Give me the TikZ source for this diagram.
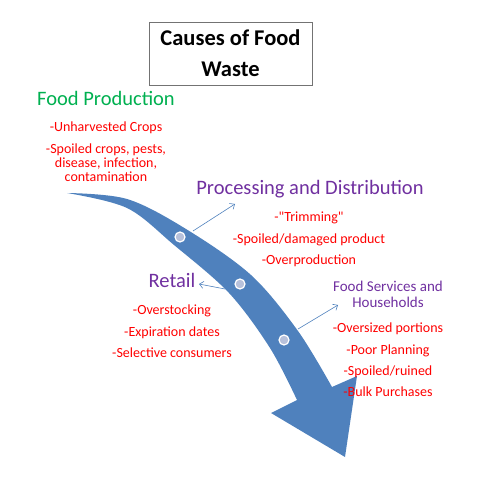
\documentclass[tikz,border=0pt]{standalone}
\usepackage{fontspec}
\setmainfont{Carlito}
\usetikzlibrary{positioning, arrows.meta}
\definecolor{arrowblue}{HTML}{4F81BD}
\definecolor{dotfill}{HTML}{B7C1DB}
\definecolor{prodgreen}{HTML}{00B050}
\definecolor{stagepurple}{HTML}{7030A0}
\definecolor{causered}{HTML}{FF0000}
\tikzset{
  stage/.style={text=stagepurple, font=\fontsize{20.5}{24}\selectfont, inner sep=0pt, anchor=base},
  causetext/.style={text=causered, font=\fontsize{14}{14}\selectfont, inner sep=0pt},
  cause/.style={causetext, text height=10pt, text depth=3pt, inner ysep=4pt},
  stop/.style={circle, fill=dotfill, draw=white, line width=1.2pt, minimum size=10pt, inner sep=0pt},
  pointer/.style={draw=arrowblue, line width=0.6pt, -{Straight Barb[length=4pt,width=7pt]}},
}

\begin{document}
\begin{tikzpicture}[x=1pt, y=-1pt]
\useasboundingbox (0,0) rectangle (493,478);

% title box
\node[draw=black!55, line width=0.8pt, minimum width=163pt, minimum height=63pt,
  align=center, font=\bfseries\fontsize{22.5}{31}\selectfont] (title) at (230.5,53.5) {Causes of Food\\Waste};

% the big curved arrow
\fill[arrowblue] plot[smooth, tension=0.55] coordinates {(67,193) (127,199) (186,229) (251,275) (298,331) (332,387)}
  -- (357,376) -- (345,457) -- (271,413) -- (297,400)
  -- plot[smooth, tension=0.55] coordinates {(297,400) (270,348) (229,293) (174,245) (127,208) (67,193)} -- cycle;

% stops on the arrow
\node[stop] (dot1) at (180,237) {};
\node[stop] (dot2) at (240,284) {};
\node[stop] (dot3) at (284,340) {};

% stages
\node[stage, text=prodgreen] (production) at (106,106) {Food Production};
\node[stage] (processing) at (310,195) {Processing and Distribution};
\node[stage] (retail) at (172,288) {Retail};
\node[stage, font=\fontsize{15}{16.5}\selectfont, align=center] (services) at (388,308) {Food Services and\\Households};

% causes
\node[cause, anchor=base] (prod1) at (106,131.7) {-Unharvested Crops};
\node[causetext, align=center, anchor=base] (prod2) at (106,181.7) {-Spoiled crops, pests,\\disease, infection,\\contamination};

\node[cause, anchor=base] (proc1) at (309,221.7) {-\textquotedbl Trimming\textquotedbl};
\node[cause, below=0pt of proc1] (proc2) {-Spoiled/damaged product};
\node[cause, below=0pt of proc2] (proc3) {-Overproduction};

\node[cause, anchor=base] (ret1) at (172,315) {-Overstocking};
\node[cause, below=0pt of ret1] (ret2) {-Expiration dates};
\node[cause, below=0pt of ret2] (ret3) {-Selective consumers};

\node[cause, anchor=base] (serv1) at (388,332.7) {-Oversized portions};
\node[cause, below=0pt of serv1] (serv2) {-Poor Planning};
\node[cause, below=0pt of serv2] (serv3) {-Spoiled/ruined};
\node[cause, below=0pt of serv3] (serv4) {-Bulk Purchases};

% pointers from the arrow to the stages
\coordinate (from1) at (193,231);
\coordinate (to1) at (235,204);
\coordinate (from2) at (225,289);
\coordinate (to2) at (199,284);
\coordinate (from3) at (298,329);
\coordinate (to3) at (338,305);
\draw[pointer] (from1) -- (to1);
\draw[pointer] (from2) -- (to2);
\draw[pointer] (from3) -- (to3);
\end{tikzpicture}
\end{document}
